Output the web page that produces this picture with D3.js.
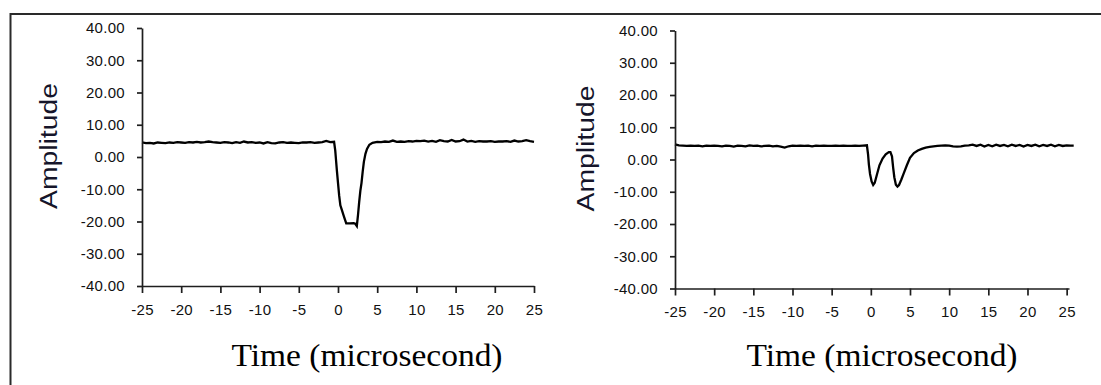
<!DOCTYPE html>
<html>
<head>
<meta charset="utf-8">
<script src="https://cdn.jsdelivr.net/npm/d3@7"></script>
<style>
    body { margin: 0; background: #fff; }
    .axis path, .axis line { stroke: #1e1e1e; stroke-width: 1.7; }
    .axis text { font-family: Arial, "Liberation Sans", Helvetica, sans-serif; font-size: 15px; letter-spacing: 0.3px; fill: #111; }
    .y-label { font-family: Arial, "Liberation Sans", Helvetica, sans-serif; font-size: 23px; fill: #15152a; }
    .x-label { font-family: "Times New Roman", "Liberation Serif", Times, serif; font-size: 32px; fill: #000; }
    .trace { fill: none; stroke: #000; stroke-width: 2.3; stroke-linejoin: miter; }
</style>
</head>
<body>
<div id="chart"></div>
<script>
"use strict"

// shared ticks
const xTicks = [-25, -20, -15, -10, -5, 0, 5, 10, 15, 20, 25]
const yTicks = [40, 30, 20, 10, 0, -10, -20, -30, -40]

// left trace: single deep pulse
const leftTime = [
    -25, -24.5, -24, -23.5, -23, -22.5, -22, -21.5, -21, -20.5,
    -20, -19.5, -19, -18.5, -18, -17.5, -17, -16.5, -16, -15.5,
    -15, -14.5, -14, -13.5, -13, -12.5, -12, -11.5, -11, -10.5,
    -10, -9.5, -9, -8.5, -8, -7.5, -7, -6.5, -6, -5.5,
    -5, -4.5, -4, -3.5, -3, -2.5, -2, -1.5, -1, -0.5,
    -0.35, -0.25, -0.15, 0, 0.15, 0.3, 0.5, 0.7, 0.9, 1.05,
    1.5, 2.0, 2.2, 2.4, 2.55, 2.7, 2.85, 3.0, 3.15, 3.3,
    3.5, 3.7, 4.0, 4.4,
    5, 5.5, 6, 6.5, 7, 7.5, 8, 8.5, 9, 9.5,
    10, 10.5, 11, 11.5, 12, 12.5, 13, 13.5, 14, 14.5,
    15, 15.5, 16, 16.5, 17, 17.5, 18, 18.5, 19, 19.5,
    20, 20.5, 21, 21.5, 22, 22.5, 23, 23.5, 24, 24.5, 25
]
const leftAmp = [
    4.5, 4.3, 4.4, 4.2, 4.5, 4.4, 4.3, 4.5, 4.4, 4.6,
    4.5, 4.4, 4.6, 4.5, 4.7, 4.5, 4.6, 4.8, 4.6, 4.5,
    4.4, 4.6, 4.5, 4.3, 4.6, 4.4, 4.8, 4.5, 4.6, 4.4,
    4.5, 4.2, 4.6, 4.3, 4.2, 4.5, 4.6, 4.4, 4.5, 4.4,
    4.3, 4.5, 4.5, 4.6, 4.4, 4.5, 4.6, 5.0, 4.6, 4.7,
    2.0, -1.0, -4.0, -8.0, -12.0, -15.0, -16.5, -18.0, -19.5, -20.6,
    -20.6, -20.5, -20.7, -21.4, -18.0, -14.0, -10.5, -8.0, -4.5, -1.5,
    1.0, 2.5, 3.8, 4.4,
    4.7, 4.6, 4.8, 4.7, 5.1, 4.7, 4.8, 4.7, 4.9, 4.8,
    5.0, 4.9, 5.1, 4.8, 5.0, 4.7, 5.2, 4.9, 4.8, 5.3,
    4.8, 4.9, 5.4, 4.8, 5.0, 4.7, 4.9, 4.8, 4.8, 4.9,
    4.7, 4.8, 4.8, 4.9, 4.7, 5.1, 4.8, 4.9, 5.2, 4.9, 4.7
]

// right trace: double dip
const rightTime = [
    -25, -24.5, -24, -23.5, -23, -22.5, -22, -21.5, -21, -20.5,
    -20, -19.5, -19, -18.5, -18, -17.5, -17, -16.5, -16, -15.5,
    -15, -14.5, -14, -13.5, -13, -12.5, -12, -11.5, -11, -10.5,
    -10, -9.5, -9, -8.5, -8, -7.5, -7, -6.5, -6, -5.5,
    -5, -4.5, -4, -3.5, -3, -2.5, -2, -1.5, -1, -0.5,
    -0.35, -0.25, -0.1, 0.1, 0.3, 0.5, 0.8, 1.1, 1.5, 1.9,
    2.3, 2.5, 2.7, 2.85, 3.0, 3.2, 3.4, 3.6, 3.9, 4.2,
    4.6, 5.0, 5.5, 6.0, 6.5, 7.0,
    7.5, 8, 8.5, 9, 9.5, 10, 10.5, 11, 11.5, 12,
    12.5, 13, 13.5, 14, 14.5, 15, 15.5, 16, 16.5, 17,
    17.5, 18, 18.5, 19, 19.5, 20, 20.5, 21, 21.5, 22,
    22.5, 23, 23.5, 24, 24.5, 25, 25.5, 25.9
]
const rightAmp = [
    4.7, 4.4, 4.3, 4.2, 4.3, 4.2, 4.3, 4.1, 4.3, 4.2,
    4.3, 4.2, 4.1, 4.3, 4.2, 4.0, 4.3, 4.2, 4.1, 4.4,
    4.2, 4.3, 4.1, 4.2, 4.3, 4.1, 4.2, 4.0, 3.7, 4.1,
    4.3, 4.2, 4.3, 4.2, 4.3, 4.1, 4.3, 4.2, 4.3, 4.2,
    4.2, 4.3, 4.2, 4.3, 4.2, 4.2, 4.3, 4.2, 4.3, 4.4,
    1.5, -1.5, -4.5, -6.8, -7.9, -7.2, -4.5, -1.8, 0.3, 1.6,
    2.3, 2.3, 1.0, -2.5, -5.5, -7.8, -8.4, -7.9, -6.2, -4.3,
    -1.8, 0.5, 2.0, 2.8, 3.3, 3.7,
    3.9, 4.1, 4.2, 4.3, 4.4, 4.3, 4.1, 4.0, 4.1, 4.3,
    4.4, 4.6, 4.2, 4.6, 4.0, 4.5, 4.1, 4.6, 4.2, 4.5,
    4.1, 4.6, 4.2, 4.5, 4.0, 4.5, 4.2, 4.6, 4.1, 4.5,
    4.2, 4.6, 4.1, 4.5, 4.2, 4.4, 4.3, 4.3
]

const amplitudeWaveforms = (function() {

    const fmt = d3.formatLocale({ decimal: ".", thousands: ",", grouping: [3], currency: ["", ""], minus: "-" })

    function panel(svg, opts) {
        const points = opts.time.map((t, i) => ({ t: t, v: opts.amp[i] }))

        const x = d3.scaleLinear().domain(opts.xDomain).range([opts.l, opts.r])
        const y = d3.scaleLinear().domain([-40, 40]).range([opts.b, opts.t])

        const axes = {
            x: d3.axisBottom(x)
                    .tickValues(xTicks)
                    .tickFormat(fmt.format("d"))
                    .tickSize(7)
                    .tickPadding(11)
                    .tickSizeOuter(0),
            y: d3.axisLeft(y)
                    .tickValues(yTicks)
                    .tickFormat(fmt.format(".2f"))
                    .tickSize(5)
                    .tickPadding(12)
                    .tickSizeOuter(0)
        }

        // trace
        svg.append("path")
            .datum(points)
            .attr("class", "trace")
            .attr("d", d3.line().x(d => x(d.t)).y(d => y(d.v)))

        // axes
        svg.append("g")
            .attr("class", "axis x-axis")
            .attr("transform", `translate(0, ${ opts.b })`)
            .call(axes.x)

        svg.append("g")
            .attr("class", "axis y-axis")
            .attr("transform", `translate(${ opts.l }, 0)`)
            .call(axes.y)

        // y-axis label
        svg.append("text")
            .text("Amplitude")
            .attr("class", "y-label")
            .attr("text-anchor", "middle")
            .attr("textLength", 126)
            .attr("lengthAdjust", "spacingAndGlyphs")
            .attr("transform", `translate(${ opts.yLabelX }, ${ (opts.t + opts.b) / 2 - 11 }) rotate(-90)`)

        // x-axis label
        svg.append("text")
            .text("Time (microsecond)")
            .attr("class", "x-label")
            .attr("text-anchor", "middle")
            .attr("textLength", 271)
            .attr("lengthAdjust", "spacingAndGlyphs")
            .attr("x", opts.xLabelX)
            .attr("y", 366)
    }

    function draw(id) {
        const svg = d3.select(id)
                    .append("svg")
                        .attr("width", 1101)
                        .attr("height", 385)

        // frame (top and left edge only)
        svg.append("path")
            .attr("d", "M10.5,385 V14 H1101")
            .attr("fill", "none")
            .attr("stroke", "#2a2a2a")
            .attr("stroke-width", 2)

        panel(svg, { time: leftTime, amp: leftAmp, xDomain: [-25, 25],
                     l: 142, r: 534, t: 28, b: 286, yLabelX: 57, xLabelX: 367 })
        panel(svg, { time: rightTime, amp: rightAmp, xDomain: [-25, 25.3],
                     l: 675, r: 1069, t: 30.5, b: 288.5, yLabelX: 594, xLabelX: 882 })
    }

    return { draw: draw }
}())

amplitudeWaveforms.draw("#chart")
</script>
</body>
</html>
